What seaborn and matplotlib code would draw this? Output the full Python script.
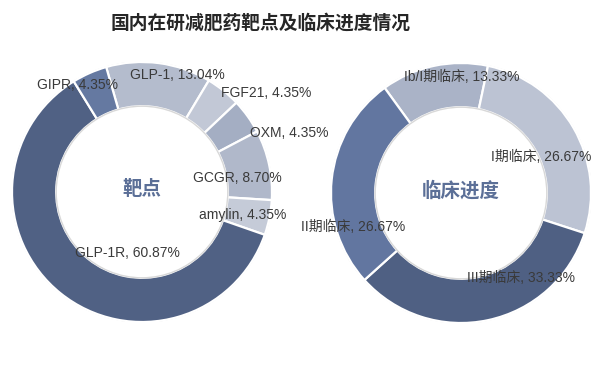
import matplotlib
matplotlib.use("Agg")
import matplotlib.pyplot as plt
from matplotlib.patches import Circle
import seaborn as sns

# data
target_names = ["GLP-1", "FGF21", "OXM", "GCGR", "amylin", "GLP-1R", "GIPR"]
target_share = [13.04, 4.35, 4.35, 8.70, 4.35, 60.87, 4.35]
stage_names = ["Ib/I期临床", "I期临床", "III期临床", "II期临床"]
stage_share = [13.33, 26.67, 33.33, 26.67]

# styles / layout
target_colors = ["#b4bccd", "#c2c8d6", "#a4aec3", "#b0b8ca", "#c5cbd8", "#506184", "#6579a1"]
stage_colors = ["#aab3c7", "#bcc3d3", "#4f6083", "#6276a0"]
target_label_xy = [(0.273, 0.90), (0.954, 0.762), (1.131, 0.454), (0.735, 0.108),
                   (0.773, -0.177), (-0.115, -0.469), (-0.496, 0.823)]
stage_label_xy = [(0.008, 0.892), (0.615, 0.277), (0.465, -0.654), (-0.827, -0.262)]

sns.set_theme(style="white")
plt.rcParams["font.family"] = ["Liberation Sans", "Noto Sans CJK SC", "DejaVu Sans"]

fig = plt.figure(figsize=(6, 3.7), dpi=100)
fig.patch.set_facecolor("white")

W, H = 600, 370
R = 130


def donut(cx, cy, vals, names, colors, start, label_xy, title):
    ax = fig.add_axes([(cx - R) / W, (H - cy - R) / H, 2 * R / W, 2 * R / H])
    ax.pie(vals, colors=colors, startangle=start, counterclock=False, radius=1,
           wedgeprops=dict(width=0.34, edgecolor="white", linewidth=1.6))
    ax.add_patch(Circle((0, 0), 1.0, fill=False, ec="#d8d8d8", lw=1.0, zorder=0))
    ax.add_patch(Circle((0, 0), 0.66, fill=False, ec="#d8d8d8", lw=1.0, zorder=3))
    for n, v, (x, y) in zip(names, vals, label_xy):
        ax.text(x, y, f"{n}, {v:.2f}%", ha="center", va="center",
                fontsize=10, color="#3a3a3a", zorder=5)
    ax.text(0.0, 0.02, title, ha="center", va="center", fontsize=14,
            fontweight="bold", color="#5b6f97",
            family=["Noto Sans CJK SC", "DejaVu Sans"])
    ax.set_xlim(-1, 1)
    ax.set_ylim(-1, 1)
    ax.set_aspect("equal")
    ax.axis("off")
    return ax


donut(142, 192, target_share, target_names, target_colors, 106, target_label_xy, "靶点")
donut(461, 193, stage_share, stage_names, stage_colors, 126, stage_label_xy, "临床进度")

fig.text(0.435, 1 - 23 / H, "国内在研减肥药靶点及临床进度情况", ha="center", va="center",
         fontsize=13.5, fontweight="bold", color="#262626",
         family=["Noto Sans CJK SC", "DejaVu Sans"])

fig.savefig("out.png", dpi=100, facecolor="white")
